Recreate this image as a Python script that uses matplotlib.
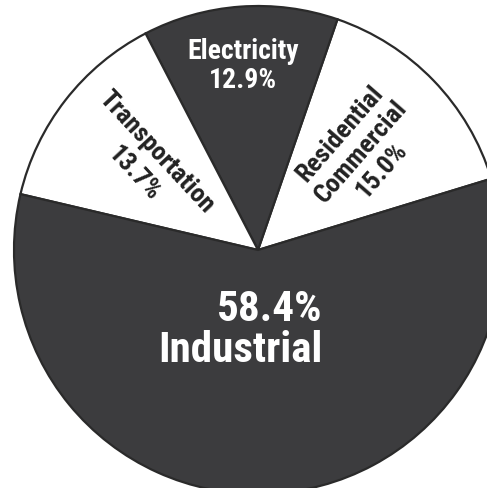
import matplotlib
matplotlib.use('Agg')
import matplotlib.pyplot as plt

# sector shares (%), counterclockwise from the right
sectors = ['Residential\nCommercial', 'Electricity', 'Transportation', 'Industrial']
shares = [15.0, 12.9, 13.7, 58.4]
colors = ['white', '#3c3c3e', 'white', '#3c3c3e']

plt.rcParams['font.family'] = ['Roboto Condensed', 'DejaVu Sans']

W, H = 487, 488
fig = plt.figure(figsize=(W / 100, H / 100), dpi=100)
ax = fig.add_axes([0, 0, 1, 1])

cx, cy, r = 258, H - 250, 244
ax.pie(shares, colors=colors, startangle=17, counterclock=True,
       center=(cx, cy), radius=r, frame=True,
       wedgeprops=dict(edgecolor='#2a2a2a', linewidth=1.6))
ax.set_xlim(0, W)
ax.set_ylim(0, H)
ax.axis('off')

# labels
ax.text(243, H - 66, '%s\n%.1f%%' % (sectors[1], shares[1]), color='white', fontsize=20,
        fontweight='bold', ha='center', va='center', linespacing=1.1)
ax.text(240, H - 330, '%.1f%%\n%s' % (shares[3], sectors[3]), color='white', fontsize=31,
        fontweight='bold', ha='center', va='center', multialignment='right',
        linespacing=1.0)
ax.text(145, H - 163, '%s\n%.1f%%' % (sectors[2], shares[2]), color='#222222', fontsize=19,
        fontweight='semibold', ha='center', va='center', rotation=-47,
        rotation_mode='anchor', linespacing=1.35)
ax.text(361, H - 152, '%s\n%.1f%%' % (sectors[0], shares[0]), color='#222222', fontsize=19,
        fontweight='semibold', ha='center', va='center', rotation=49,
        rotation_mode='anchor', linespacing=1.2)

fig.savefig('out.png', dpi=100, facecolor='white')
